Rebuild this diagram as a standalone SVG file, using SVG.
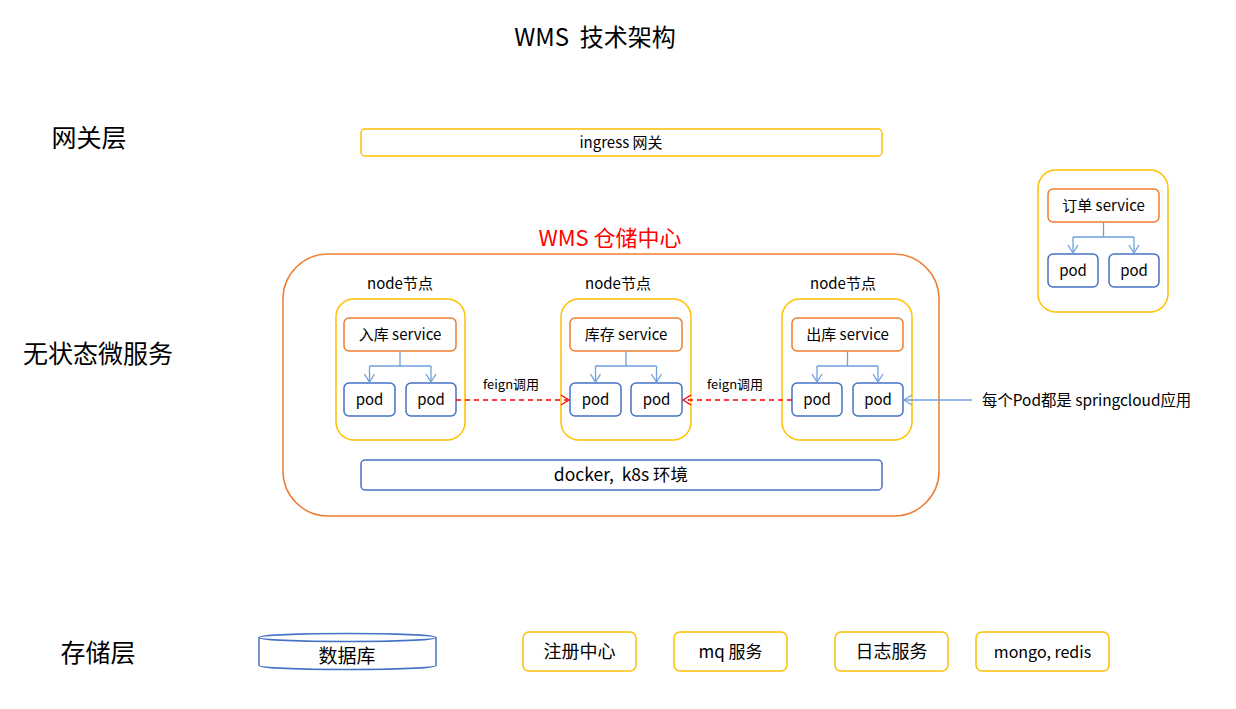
<svg xmlns="http://www.w3.org/2000/svg" width="1236" height="709" viewBox="0 0 1236 709">
<defs>
<style>
text{font-family:"Noto Sans CJK SC","Noto Sans",sans-serif;fill:#000;text-anchor:middle;dominant-baseline:central;white-space:pre;transform:translateY(-1.5px)}
.big{font-size:25px}
.mid{font-size:15px}
.sm{font-size:15px}
.xs{font-size:13px}
.gold{fill:#fff;stroke:#FFC000;stroke-width:1.5}
.org{fill:#fff;stroke:#ED7D31;stroke-width:1.5}
.blu{fill:#fff;stroke:#4472C4;stroke-width:1.5}
.tree{fill:none;stroke:#6FA0DC;stroke-width:1.3}
.feign{fill:none;stroke:#FF0000;stroke-width:1.3;stroke-dasharray:5 4}
</style>
<marker id="ab" markerUnits="userSpaceOnUse" markerWidth="12" markerHeight="12" refX="9" refY="6" orient="auto">
<path d="M1,1 L9,6 L1,11" fill="none" stroke="#6FA0DC" stroke-width="1.3"/>
</marker>
<marker id="ar" markerUnits="userSpaceOnUse" markerWidth="12" markerHeight="12" refX="9" refY="6" orient="auto">
<path d="M1,1 L9,6 L1,11" fill="none" stroke="#FF0000" stroke-width="1.3"/>
</marker>
</defs>
<rect width="1236" height="709" fill="#fff"/>

<text x="595" y="37" style="font-size:24px" xml:space="preserve">WMS  技术架构</text>
<text x="89" y="137" class="big">网关层</text>
<text x="98" y="353" class="big">无状态微服务</text>
<text x="98" y="652" class="big">存储层</text>

<g id="ingress">
<rect x="361" y="129" width="521" height="27" rx="4" class="gold"/>
<text x="621" y="143" class="mid">ingress 网关</text>
</g>

<g id="wms-center">
<rect x="283" y="254" width="656" height="262" rx="45" class="org"/>
<text x="610" y="237" style="font-size:22px;fill:#FF0000">WMS 仓储中心</text>
</g>

<g id="node1">
<text x="400" y="284" class="sm">node节点</text>
<rect x="336" y="299" width="129" height="141" rx="18" class="gold"/>
<rect x="344" y="318" width="112" height="33" rx="5" class="org"/>
<text x="400" y="335" class="mid">入库 service</text>
<rect x="344" y="383" width="51" height="33" rx="5" class="blu"/>
<text x="369.5" y="400" class="mid">pod</text>
<rect x="406" y="383" width="50" height="33" rx="5" class="blu"/>
<text x="431" y="400" class="mid">pod</text>
</g>

<g id="node2">
<text x="618" y="284" class="sm">node节点</text>
<rect x="561" y="299" width="130" height="141" rx="18" class="gold"/>
<rect x="570" y="318" width="112" height="33" rx="5" class="org"/>
<text x="626" y="335" class="mid">库存 service</text>
<rect x="570" y="383" width="51" height="33" rx="5" class="blu"/>
<text x="595.5" y="400" class="mid">pod</text>
<rect x="631" y="383" width="51" height="33" rx="5" class="blu"/>
<text x="656.5" y="400" class="mid">pod</text>
</g>

<g id="node3">
<text x="843" y="284" class="sm">node节点</text>
<rect x="782" y="299" width="130" height="141" rx="18" class="gold"/>
<rect x="792" y="318" width="111" height="33" rx="5" class="org"/>
<text x="847.5" y="335" class="mid">出库 service</text>
<rect x="792" y="383" width="50" height="33" rx="5" class="blu"/>
<text x="817" y="400" class="mid">pod</text>
<rect x="853" y="383" width="50" height="33" rx="5" class="blu"/>
<text x="878" y="400" class="mid">pod</text>
</g>

<g id="docker">
<rect x="361" y="460" width="521" height="30" rx="4" class="blu"/>
<text x="621" y="475" style="font-size:17.5px" xml:space="preserve">docker,  k8s 环境</text>
</g>

<g id="order">
<rect x="1038" y="170" width="130" height="142" rx="18" class="gold"/>
<rect x="1048" y="189" width="111" height="33" rx="5" class="org"/>
<text x="1103.5" y="206" class="mid">订单 service</text>
<rect x="1048" y="254" width="50" height="33" rx="5" class="blu"/>
<text x="1073" y="271" class="mid">pod</text>
<rect x="1109" y="254" width="50" height="33" rx="5" class="blu"/>
<text x="1134" y="271" class="mid">pod</text>
</g>

<g id="note">
<text x="982" y="400" style="font-size:15.4px;text-anchor:start">每个Pod都是 springcloud应用</text>
</g>

<g id="database">
<path d="M259,637.5 L259,665.5 A88.5,4 0 0 0 436,665.5 L436,637.5" fill="#fff" stroke="#4472C4" stroke-width="1.5"/>
<ellipse cx="347.5" cy="637.5" rx="88.5" ry="4" fill="#fff" stroke="#4472C4" stroke-width="1.5"/>
<text x="347" y="656" style="font-size:19px">数据库</text>
</g>
<g id="registry">
<rect x="523" y="632" width="113" height="39" rx="6" class="gold"/>
<text x="579.5" y="651.5" style="font-size:18px">注册中心</text>
</g>
<g id="mq">
<rect x="674" y="632" width="113" height="39" rx="6" class="gold"/>
<text x="730.5" y="651.5" style="font-size:17px">mq 服务</text>
</g>
<g id="log">
<rect x="835" y="632" width="113" height="39" rx="6" class="gold"/>
<text x="891.5" y="651.5" style="font-size:18px">日志服务</text>
</g>
<g id="mongo">
<rect x="976" y="632" width="133" height="39" rx="6" class="gold"/>
<text x="1042.5" y="652" style="font-size:16px">mongo, redis</text>
</g>

<g id="connectors">
<path d="M400,351 V366 H369.5 M400,366 H431" class="tree"/>
<path d="M369.5,366 V382" class="tree" marker-end="url(#ab)"/>
<path d="M431,366 V382" class="tree" marker-end="url(#ab)"/>
<path d="M626,351 V366 H595.5 M626,366 H656.5" class="tree"/>
<path d="M595.5,366 V382" class="tree" marker-end="url(#ab)"/>
<path d="M656.5,366 V382" class="tree" marker-end="url(#ab)"/>
<path d="M847.5,351 V366 H817 M847.5,366 H878" class="tree"/>
<path d="M817,366 V382" class="tree" marker-end="url(#ab)"/>
<path d="M878,366 V382" class="tree" marker-end="url(#ab)"/>
<path d="M1103.5,222 V237 H1073 M1103.5,237 H1134" class="tree"/>
<path d="M1073,237 V253" class="tree" marker-end="url(#ab)"/>
<path d="M1134,237 V253" class="tree" marker-end="url(#ab)"/>
<path d="M456,400 H569" class="feign" marker-end="url(#ar)"/>
<text x="511" y="385" class="xs">feign调用</text>
<path d="M792,400 H683" class="feign" marker-end="url(#ar)"/>
<text x="735" y="385" class="xs">feign调用</text>
<path d="M972,400 H904" class="tree" marker-end="url(#ab)"/>
</g>
</svg>
